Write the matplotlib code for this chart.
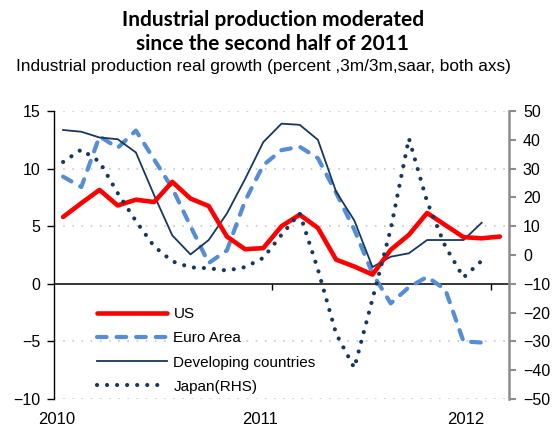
import numpy as np
import matplotlib
matplotlib.use("Agg")
import matplotlib.pyplot as plt

# monthly observations, Jan 2010 .. Jan 2012
months = [f"{y}-{m:02d}" for y in (2010, 2011) for m in range(1, 13)] + ["2012-01"]

us = [5.8, 7.0, 8.15, 6.8, 7.3, 7.1, 8.85, 7.4, 6.75, 4.1, 3.0, 3.1,
      5.0, 6.0, 4.85, 2.1, 1.5, 0.8, 2.95, 4.25, 6.15, 5.1, 4.05, 3.95, 4.1]
euro_area = [9.3, 8.4, 12.8, 11.8, 13.3, 10.8, 8.3, 5.0, 1.8, 2.9, 7.2, 10.3,
             11.6, 11.9, 10.9, 7.9, 4.7, 0.9, -1.7, -0.3, 0.6, -0.5, -5.0, -5.1]
developing = [13.35, 13.2, 12.7, 12.55, 11.4, 7.7, 4.2, 2.55, 3.8, 6.1, 9.1, 12.3,
              13.9, 13.8, 12.5, 8.0, 5.5, 1.45, 2.35, 2.65, 3.8, 3.8, 3.8, 5.3]
japan_rhs = [32.3, 36.6, 32.4, 21.5, 11.8, 3.0, -2.2, -4.3, -4.6, -5.4, -4.2, -1.0,
             7.0, 14.5, -5.0, -27.3, -39.2, -15.3, 9.0, 40.5, 18.5, 3.0, -7.8, -2.0]

year_labels = ["2010", "2011", "2012"]

NAVY = "#17375E"
BLUE = "#558ED5"
RED = "#FF0000"
GREY = "#8C8C8C"

plt.rcParams["font.family"] = ["Liberation Sans", "DejaVu Sans"]

fig = plt.figure(figsize=(5.59, 4.34), dpi=100)
ax = fig.add_axes([54 / 559, 1 - 399 / 434, 455 / 559, 288 / 434])
ax2 = ax.twinx()

x = np.arange(len(months))

l_us, = ax.plot(x[:len(us)], us, color=RED, lw=3.3, solid_capstyle="round",
                solid_joinstyle="round", label="US", zorder=3)
l_eu, = ax.plot(x[:len(euro_area)], euro_area, color=BLUE, lw=3.0,
                dashes=(2.3, 2.4), dash_capstyle="round", dash_joinstyle="round",
                label="Euro Area", zorder=2)
l_dev, = ax.plot(x[:len(developing)], developing, color=NAVY, lw=1.3,
                 label="Developing countries", zorder=2.5)
l_jp, = ax2.plot(x[:len(japan_rhs)], japan_rhs, color=NAVY, lw=3.0,
                 dashes=(0.01, 2.4), dash_capstyle="round",
                 label="Japan(RHS)")

# left axis
ax.set_xlim(-0.5, 24.5)
ax.set_ylim(-10, 15)
ax.set_yticks([-10, -5, 0, 5, 10, 15])
ax.tick_params(axis="y", direction="out", length=5, width=1, pad=5, labelsize=11.5)
for v in [-10, -5, 5, 10, 15]:
    ax.axhline(v, color="#C8C8C8", lw=1.2, ls=(0, (1, 4.5)), zorder=0)
ax.axhline(0, color="black", lw=1.1, zorder=1)

ax.spines["top"].set_visible(False)
ax.spines["right"].set_visible(False)
ax.spines["bottom"].set_position(("data", 0))
ax.spines["bottom"].set_visible(False)
ax.spines["left"].set_linewidth(1.0)

# year ticks on the zero line, labels at the bottom
ax.set_xticks([11.5, 23.5])
ax.set_xticklabels([])
ax.tick_params(axis="x", which="major", direction="out", length=4, width=1, color="black")
ax.set_xticks([-0.33, 10.8, 22.1], minor=True)
ax.set_xticklabels(year_labels, minor=True)
ax.tick_params(axis="x", which="minor", length=0, pad=92.5, labelsize=12)

# right axis
ax2.set_ylim(-50, 50)
ax2.set_yticks(range(-50, 51, 10))
ax2.tick_params(axis="y", direction="out", length=5, width=1.5, color=GREY,
                pad=5, labelsize=11.5)
for s in ["top", "left", "bottom"]:
    ax2.spines[s].set_visible(False)
ax2.spines["right"].set_color(GREY)
ax2.spines["right"].set_linewidth(1.8)

ax2.legend(handles=[l_us, l_eu, l_dev, l_jp], loc="upper left",
           bbox_to_anchor=(0.094, 0.318), frameon=False, fontsize=11,
           handlelength=4.6, handletextpad=0.42, labelspacing=0.66,
           borderpad=0, borderaxespad=0)

fig.text(0.488, 0.978, "Industrial production moderated\nsince the second half of 2011",
         ha="center", va="top", fontsize=15, fontweight="bold",
         family=["Lato", "DejaVu Sans"], linespacing=1.3)
fig.text(0.472, 0.847, "Industrial production real growth (percent ,3m/3m,saar, both axs)",
         ha="center", va="center", fontsize=12.4)

fig.savefig("out.png", dpi=100)
